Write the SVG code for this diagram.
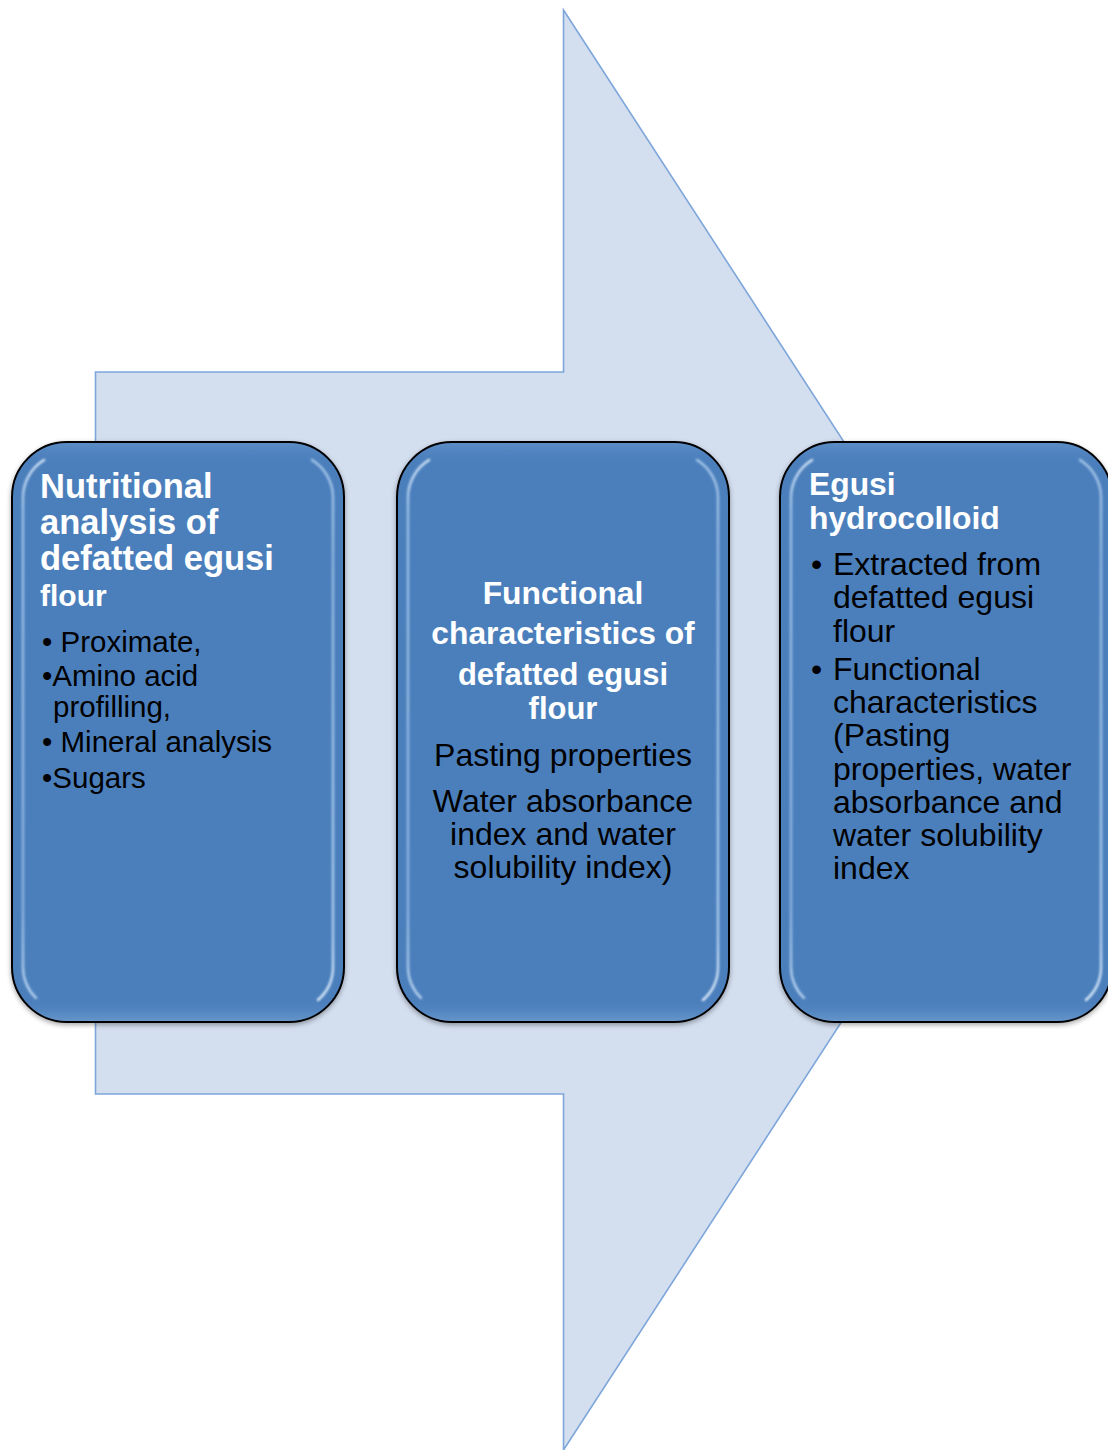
<svg xmlns="http://www.w3.org/2000/svg" width="1108" height="1450" viewBox="0 0 1108 1450">
  <style>
    .title { font-family: "Liberation Sans", Arial, sans-serif; font-weight: bold; fill: #FFFFFF; }
    .body { font-family: "Liberation Sans", Arial, sans-serif; fill: #000000; }
    .arrow { fill: #D3DEEF; stroke: #7EA6DB; stroke-width: 1.6; }
    .card { fill: #4C7FBC; stroke: #000000; stroke-width: 2; }
    .glow { fill: none; stroke-width: 2.4; stroke-linecap: round; }
  </style>
  <defs>
    <filter id="shadow" x="-10%" y="-10%" width="120%" height="120%">
      <feDropShadow dx="0" dy="2" stdDeviation="2.5" flood-color="#000" flood-opacity="0.35"/>
    </filter>
    <filter id="soft" x="-10%" y="-10%" width="120%" height="120%">
      <feGaussianBlur stdDeviation="0.9"/>
    </filter>
    <linearGradient id="leftGlow" gradientUnits="userSpaceOnUse" x1="0" y1="0" x2="0" y2="580">
      <stop offset="0" stop-color="#F0F8FF" stop-opacity="1"/>
      <stop offset="0.12" stop-color="#BFDCFA" stop-opacity="0.7"/>
      <stop offset="0.8" stop-color="#BFDCFA" stop-opacity="0.55"/>
      <stop offset="1" stop-color="#E0F0FF" stop-opacity="0.85"/>
    </linearGradient>
    <linearGradient id="rightGlow" gradientUnits="userSpaceOnUse" x1="0" y1="0" x2="0" y2="580">
      <stop offset="0" stop-color="#D8ECFF" stop-opacity="0.7"/>
      <stop offset="0.2" stop-color="#BFDCFA" stop-opacity="0.6"/>
      <stop offset="0.85" stop-color="#CDE6FF" stop-opacity="0.75"/>
      <stop offset="1" stop-color="#F6FCFF" stop-opacity="1"/>
    </linearGradient>
    <linearGradient id="edgeShade" gradientUnits="userSpaceOnUse" x1="0" y1="0" x2="0" y2="580">
      <stop offset="0" stop-color="#7FA9DA" stop-opacity="0.35"/>
      <stop offset="0.04" stop-color="#4C7FBC" stop-opacity="0"/>
      <stop offset="0.96" stop-color="#4C7FBC" stop-opacity="0"/>
      <stop offset="1" stop-color="#8FB5E0" stop-opacity="0.45"/>
    </linearGradient>
    <!-- rounded bevelled card, 332 x 580, drawn at the origin -->
    <g id="cardShape">
      <rect class="card" x="0" y="0" width="332" height="580" rx="55" ry="55" filter="url(#shadow)"/>
      <rect x="1" y="1" width="330" height="578" rx="54" ry="54" fill="url(#edgeShade)"/>
      <g filter="url(#soft)">
        <path class="glow" stroke="url(#leftGlow)" d="M 32 18 A 44 44 0 0 0 11 55 L 11 525 A 44 44 0 0 0 24 556"/>
        <path class="glow" stroke="url(#rightGlow)" d="M 300 18 A 44 44 0 0 1 321 55 L 321 525 A 44 44 0 0 1 306 558"/>
      </g>
    </g>
  </defs>

  <!-- background block arrow -->
  <g id="arrow">
    <polygon class="arrow" points="95.5,372 563.5,372 563.5,10 1031,730 563.5,1450 563.5,1094 95.5,1094"/>
  </g>

  <!-- no connectors: the arrow carries the flow -->
  <g id="connectors"/>

  <g id="node-nutritional">
    <use href="#cardShape" transform="translate(12,442)"/>
    <text class="title" font-size="34.5" x="40" y="498">Nutritional</text>
    <text class="title" font-size="34.5" x="40" y="534">analysis of</text>
    <text class="title" font-size="34.5" x="40" y="570">defatted egusi</text>
    <text class="title" font-size="30" x="40" y="606">flour</text>
    <text class="body" font-size="29.5" x="42" y="652">• Proximate,</text>
    <text class="body" font-size="29.5" x="42" y="686">•Amino acid</text>
    <text class="body" font-size="29.5" x="53" y="717">profilling,</text>
    <text class="body" font-size="29.5" x="42" y="752">• Mineral analysis</text>
    <text class="body" font-size="29.5" x="42" y="788">•Sugars</text>
  </g>

  <g id="node-functional">
    <use href="#cardShape" transform="translate(397,442)"/>
    <g text-anchor="middle">
      <text class="title" font-size="31.8" x="563" y="604">Functional</text>
      <text class="title" font-size="31.8" x="563" y="644">characteristics of</text>
      <text class="title" font-size="31" x="563" y="685">defatted egusi</text>
      <text class="title" font-size="31" x="563" y="719">flour</text>
      <text class="body" font-size="32" x="563" y="766">Pasting properties</text>
      <text class="body" font-size="32" x="563" y="812">Water absorbance</text>
      <text class="body" font-size="32" x="563" y="845">index and water</text>
      <text class="body" font-size="32" x="563" y="878">solubility index)</text>
    </g>
  </g>

  <g id="node-hydrocolloid">
    <use href="#cardShape" transform="translate(780,442)"/>
    <text class="title" font-size="31.8" x="809" y="495">Egusi</text>
    <text class="title" font-size="31.8" x="809" y="529">hydrocolloid</text>
    <text class="body" font-size="32" x="811" y="575">•</text>
    <text class="body" font-size="32" x="833" y="575">Extracted from</text>
    <text class="body" font-size="32" x="833" y="608">defatted egusi</text>
    <text class="body" font-size="32" x="833" y="642">flour</text>
    <text class="body" font-size="32" x="811" y="680">•</text>
    <text class="body" font-size="32" x="833" y="680">Functional</text>
    <text class="body" font-size="32" x="833" y="713">characteristics</text>
    <text class="body" font-size="32" x="833" y="746">(Pasting</text>
    <text class="body" font-size="32" x="833" y="780">properties, water</text>
    <text class="body" font-size="32" x="833" y="813">absorbance and</text>
    <text class="body" font-size="32" x="833" y="846">water solubility</text>
    <text class="body" font-size="32" x="833" y="879">index</text>
  </g>
</svg>
